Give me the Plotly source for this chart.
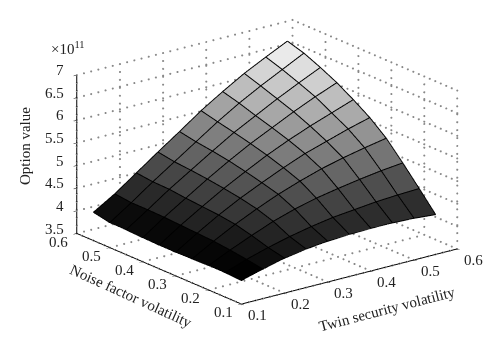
import plotly.graph_objects as go

twin_vol = [0.10, 0.15, 0.20, 0.25, 0.30, 0.35, 0.40, 0.45, 0.50, 0.55]
noise_vol = [0.10, 0.15, 0.20, 0.25, 0.30, 0.35, 0.40, 0.45, 0.50, 0.55]
# rows: noise volatility, columns: twin security volatility (units of 1e11)
option_value = [
    [4.01, 4.14, 4.26, 4.34, 4.39, 4.42, 4.43, 4.43, 4.41, 4.37],
    [4.03, 4.20, 4.34, 4.46, 4.56, 4.64, 4.69, 4.74, 4.77, 4.79],
    [4.03, 4.25, 4.45, 4.64, 4.79, 4.91, 5.00, 5.08, 5.15, 5.20],
    [4.02, 4.29, 4.54, 4.76, 4.96, 5.13, 5.28, 5.40, 5.50, 5.59],
    [4.01, 4.31, 4.59, 4.84, 5.06, 5.27, 5.46, 5.61, 5.76, 5.89],
    [4.01, 4.33, 4.62, 4.90, 5.15, 5.39, 5.60, 5.79, 5.96, 6.13],
    [4.02, 4.35, 4.65, 4.95, 5.23, 5.49, 5.72, 5.95, 6.16, 6.35],
    [4.04, 4.36, 4.69, 4.99, 5.29, 5.58, 5.83, 6.08, 6.31, 6.53],
    [4.04, 4.36, 4.70, 5.02, 5.34, 5.66, 5.95, 6.21, 6.45, 6.69],
    [4.11, 4.40, 4.74, 5.08, 5.41, 5.75, 6.05, 6.33, 6.57, 6.80],
]
xy_ticks = [0.1, 0.2, 0.3, 0.4, 0.5, 0.6]
z_ticks = [3.5, 4, 4.5, 5, 5.5, 6, 6.5, 7]
z_tick_text = ["3.5", "4", "4.5", "5", "5.5", "6", "6.5", "7"]
FONT = "Liberation Serif"
TXT = "#222222"

n_y, n_x = len(noise_vol), len(twin_vol)
vx, vy, vz = [], [], []
for r in range(n_y):
    for c in range(n_x):
        vx.append(twin_vol[c]); vy.append(noise_vol[r]); vz.append(option_value[r][c])

zmin_c, zmax_c = 4.08, 6.85
ti, tj, tk, fc = [], [], [], []
for r in range(n_y - 1):
    for c in range(n_x - 1):
        a = r * n_x + c
        b = a + 1
        d = a + n_x
        e = d + 1
        m = (vz[a] + vz[b] + vz[d] + vz[e]) / 4
        g = int(max(0, min(1, (m - zmin_c) / (zmax_c - zmin_c))) * 255)
        col = f"rgb({g},{g},{g})"
        ti += [a, a]; tj += [b, e]; tk += [e, d]; fc += [col, col]

fig = go.Figure()
fig.add_trace(go.Mesh3d(x=vx, y=vy, z=vz, i=ti, j=tj, k=tk, facecolor=fc, flatshading=True,
                        lighting=dict(ambient=1, diffuse=0, specular=0, roughness=1, fresnel=0),
                        hoverinfo="skip", showscale=False))

# mesh lines
lx, ly, lz = [], [], []
for r in range(n_y):
    for c in range(n_x):
        lx.append(twin_vol[c]); ly.append(noise_vol[r]); lz.append(option_value[r][c] + 0.01)
    lx.append(None); ly.append(None); lz.append(None)
for c in range(n_x):
    for r in range(n_y):
        lx.append(twin_vol[c]); ly.append(noise_vol[r]); lz.append(option_value[r][c] + 0.01)
    lx.append(None); ly.append(None); lz.append(None)
fig.add_trace(go.Scatter3d(x=lx, y=ly, z=lz, mode="lines", line=dict(color="black", width=2),
                           hoverinfo="skip", showlegend=False))

# dotted grid on the back walls and the floor
gx, gy, gz = [], [], []
def seg(p, q, n):
    for s in range(n + 1):
        f = s / n
        gx.append(p[0] + (q[0] - p[0]) * f)
        gy.append(p[1] + (q[1] - p[1]) * f)
        gz.append(p[2] + (q[2] - p[2]) * f)
lo, hi = xy_ticks[0], xy_ticks[-1]
zl, zh = z_ticks[0], z_ticks[-1]
for t in xy_ticks:
    seg((t, lo, zl), (t, hi, zl), 30)
    seg((lo, t, zl), (hi, t, zl), 30)
    seg((t, hi, zl), (t, hi, zh), 20)
    seg((hi, t, zl), (hi, t, zh), 20)
for t in z_ticks:
    seg((lo, hi, t), (hi, hi, t), 30)
    seg((hi, lo, t), (hi, hi, t), 30)
fig.add_trace(go.Scatter3d(x=gx, y=gy, z=gz, mode="markers", marker=dict(color="#888888", size=1.2, line=dict(width=0)),
                           hoverinfo="skip", showlegend=False))

axis_common = dict(showgrid=False, zeroline=False, showline=True, linecolor="black", linewidth=2,
                   ticks="outside", ticklen=4, tickcolor="black", tickwidth=1, showticklabels=False,
                   showbackground=False, showspikes=False, title=dict(text=""))

tick_font = dict(family=FONT, size=15, color=TXT)
scene_notes = []
for t in xy_ticks:
    scene_notes.append(dict(x=t, y=lo, z=zl, text=f"{t:.1f}", showarrow=False, font=tick_font, xshift=16, yshift=-11))
    scene_notes.append(dict(x=lo, y=t, z=zl, text=f"{t:.1f}", showarrow=False, font=tick_font, xshift=-18, yshift=-8))
for t, s in zip(z_ticks, z_tick_text):
    scene_notes.append(dict(x=lo, y=hi, z=t, text=s, showarrow=False, font=tick_font, xanchor="right", xshift=-11, yshift=5))

def note(text, x, y, angle=0):
    return dict(text=text, x=x / 500, y=1 - y / 355, xref="paper", yref="paper", showarrow=False,
                xanchor="center", yanchor="middle", textangle=angle,
                font=dict(family=FONT, size=15, color=TXT))

fig.update_layout(
    width=500, height=355, margin=dict(l=0, r=0, t=0, b=0), paper_bgcolor="white", showlegend=False,
    scene=dict(
        domain=dict(x=[0.036, 1.0], y=[0.132, 1.0]),
        aspectmode="manual", aspectratio=dict(x=1.77, y=1.75, z=1.09),
        camera=dict(projection=dict(type="orthographic"), eye=dict(x=-0.742, y=-0.961, z=0.426),
                    up=dict(x=0, y=0, z=1), center=dict(x=0, y=0, z=0)),
        xaxis=dict(range=[lo, hi], tickvals=xy_ticks, **axis_common),
        yaxis=dict(range=[lo, hi], tickvals=xy_ticks, **axis_common),
        zaxis=dict(range=[zl, zh], tickvals=z_ticks, **axis_common),
        annotations=scene_notes,
    ),
    annotations=[
        note("Option value", 17, 138, -90),
        note("Noise factor volatility", 123, 288, 24.5),
        note("Twin security volatility", 379, 301, -14.6),
        note("×10<sup>11</sup>", 60, 40),
    ],
)
fig.write_html("out.html")
